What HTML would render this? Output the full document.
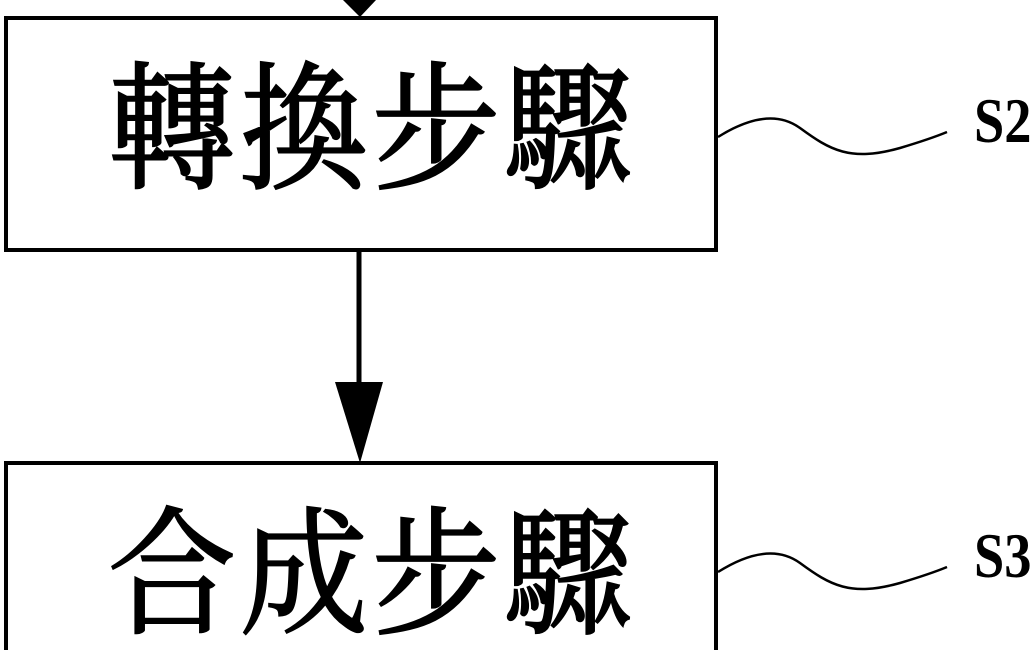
<!DOCTYPE html>
<html><head><meta charset="utf-8"><style>
html,body{margin:0;padding:0;background:#fff;width:1030px;height:650px;overflow:hidden;}
body{position:relative;}
.box{position:absolute;border:4px solid #000;box-sizing:border-box;background:#fff;}
.t{position:absolute;font-family:"Liberation Serif","Noto Serif CJK TC","Noto Serif CJK SC",serif;font-size:128px;font-weight:normal;-webkit-text-stroke:2px #000;line-height:1;letter-spacing:4px;white-space:nowrap;transform:scaleY(1.08);transform-origin:left top;}
.s{position:absolute;font-family:"Liberation Serif",serif;font-size:64px;font-weight:bold;line-height:1;transform:scaleX(0.85);transform-origin:left top;}
</style></head><body>
<div class="box" style="left:4px;top:16px;width:714px;height:236px;"></div>
<div class="box" style="left:4px;top:461px;width:714px;height:200px;"></div>
<div class="t" style="left:108px;top:62px;">轉換步驟</div>
<div class="t" style="left:108px;top:507px;">合成步驟</div>
<svg width="1030" height="650" style="position:absolute;left:0;top:0">
<line x1="359" y1="0" x2="359" y2="5" stroke="#000" stroke-width="5"/>
<polygon points="343,0 376,0 360,17" fill="#000"/>
<line x1="359" y1="252" x2="359" y2="385" stroke="#000" stroke-width="5"/>
<polygon points="335,382 383,382 360,463" fill="#000"/>
<path d="M718,137 C745,120 775,110 800,128 C830,150 850,162 900,148 C920,142 935,137 947,132" fill="none" stroke="#000" stroke-width="2.5"/>
<path d="M718,572 C745,555 775,545 800,563 C830,585 850,597 900,583 C920,577 935,572 947,567" fill="none" stroke="#000" stroke-width="2.5"/>
</svg>
<div class="s" style="left:974px;top:89px;">S2</div>
<div class="s" style="left:974px;top:524px;">S3</div>
</body></html>
